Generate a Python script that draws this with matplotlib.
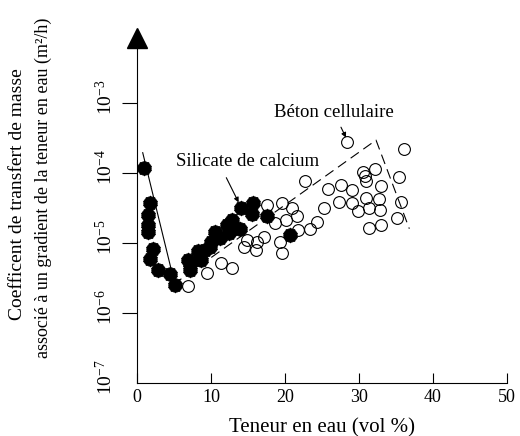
import numpy as np
import matplotlib
matplotlib.use('Agg')
import matplotlib.pyplot as plt
from matplotlib.transforms import offset_copy, ScaledTranslation

plt.rcParams['font.family'] = ['Liberation Serif', 'DejaVu Serif']
plt.rcParams['mathtext.fontset'] = 'stix'

# silicate de calcium (filled symbols)
sil_x = [1.0, 1.7, 1.5, 1.5, 1.5, 2.2, 1.8, 2.9, 4.5, 5.1, 6.9, 7.1, 7.2, 8.3, 8.7,
         9.2, 9.9, 10.0, 10.5, 11.2, 12.1, 12.4, 12.8, 13.9, 14.1, 15.5, 15.7, 17.5, 20.7]
sil_y = [1.17e-4, 3.7e-5, 2.5e-5, 1.8e-5, 1.45e-5, 8.3e-6, 5.9e-6, 4.1e-6, 3.6e-6, 2.5e-6,
         5.8e-6, 4.1e-6, 5.0e-6, 7.6e-6, 5.8e-6, 7.9e-6, 8.9e-6, 1.05e-5, 1.45e-5, 1.17e-5,
         1.8e-5, 1.4e-5, 2.1e-5, 1.6e-5, 3.2e-5, 2.6e-5, 3.7e-5, 2.4e-5, 1.3e-5]

# beton cellulaire (open symbols)
bet_x = [6.9, 9.4, 11.4, 12.8, 14.4, 14.8, 16.1, 16.2, 17.2, 17.5, 18.6, 19.3, 19.6, 19.6,
         20.2, 21.0, 21.6, 21.8, 23.4, 22.7, 24.3, 25.3, 25.8, 27.3, 27.6, 28.4, 29.0, 29.0,
         29.9, 30.5, 30.8, 31.0, 31.0, 31.4, 31.4, 32.2, 32.7, 32.8, 33.0, 33.0, 35.2, 35.4,
         35.7, 36.1]
bet_y = [2.4e-6, 3.7e-6, 5.2e-6, 4.4e-6, 8.9e-6, 1.1e-5, 7.9e-6, 1.05e-5, 1.23e-5, 3.5e-5,
         1.9e-5, 1.02e-5, 7.2e-6, 3.7e-5, 2.1e-5, 3.2e-5, 2.4e-5, 1.55e-5, 1.6e-5, 7.6e-5,
         2.0e-5, 3.2e-5, 6.0e-5, 3.8e-5, 6.8e-5, 2.75e-4, 5.8e-5, 3.7e-5, 2.9e-5, 1.02e-4,
         9.1e-5, 7.8e-5, 4.4e-5, 3.2e-5, 1.66e-5, 1.15e-4, 4.3e-5, 3.0e-5, 6.5e-5, 1.8e-5,
         2.3e-5, 8.9e-5, 3.8e-5, 2.2e-4]

# guide lines
sil_line_x = [0.77, 4.8]
sil_line_y = [1.95e-4, 3.5e-6]
bet_line_x = [4.9, 32.3, 36.8]
bet_line_y = [2.55e-6, 2.95e-4, 1.6e-5]

xticks = [0, 10, 20, 30, 40, 50]
yticks = [1e-7, 1e-6, 1e-5, 1e-4, 1e-3]
ytick_labels = [r'$\mathregular{10^{-7}}$', r'$\mathregular{10^{-6}}$', r'$\mathregular{10^{-5}}$',
                r'$\mathregular{10^{-4}}$', r'$\mathregular{10^{-3}}$']

fig = plt.figure(figsize=(5.2, 4.36), dpi=100)
ax = fig.add_axes([0.2635, 0.1216, 0.7115, 0.7706])

ax.plot(sil_line_x, sil_line_y, color='black', lw=0.8)
ax.plot(bet_line_x, bet_line_y, color='black', lw=0.8, dashes=(9, 5))
ax.plot(bet_x, bet_y, 'o', ms=8.5, mfc='none', mec='black', mew=0.8)
# filled symbols with a slightly ragged rim
ax.plot(sil_x, sil_y, marker=(10, 1, 0), ls='none', ms=11, mfc='black', mec='black', mew=0.5)
ax.plot(sil_x, sil_y, 'o', ms=9.5, mfc='black', mec='black', mew=0.8)

ax.set_yscale('log')
ax.set_xlim(0, 50)
ax.set_ylim(1e-7, 10 ** -2.2)
ax.set_xticks(xticks)
ax.set_yticks(yticks)
ax.set_yticklabels(ytick_labels, rotation=90, va='center')
ax.minorticks_off()
ax.tick_params(axis='y', which='major', direction='out', length=11, width=0.8, labelsize=14, pad=4)
ax.tick_params(axis='x', which='major', direction='in', length=7, width=0.8, labelsize=13, pad=4)
ax.yaxis.get_major_ticks()[0].tick1line.set_visible(False)
# keep the "10" centred on its tick, exponent sitting above it
shift = ScaledTranslation(0, 6 / 100, fig.dpi_scale_trans)
for lab in ax.get_yticklabels():
    lab.set_transform(lab.get_transform() + shift)
for s in ['top', 'right']:
    ax.spines[s].set_visible(False)
ax.spines['left'].set_linewidth(0.8)
ax.spines['bottom'].set_linewidth(0.8)

# arrow head on the y axis
tr = offset_copy(ax.transAxes, fig=fig, x=0, y=9.5, units='dots')
ax.plot([0], [1], marker='^', ms=13.7, color='black', transform=tr, clip_on=False)

ax.set_xlabel('Teneur en eau (vol %)', fontsize=15, labelpad=9)
fig.text(0.033, 0.555, 'Coefficent de transfert de masse', rotation=90,
         ha='center', va='center', fontsize=14)
fig.text(0.083, 0.570, 'associé à un gradient de la teneur en eau (m²/h)', rotation=90,
         ha='center', va='center', fontsize=13)

ax.annotate('', xy=(13.9, 3.5e-5), xytext=(11.9, 9.3e-5),
            arrowprops=dict(arrowstyle='-|>', color='black', lw=0.8, mutation_scale=7))
ax.text(15.0, 1.48e-4, 'Silicate de calcium', ha='center', va='center', fontsize=13.5)
ax.annotate('', xy=(28.4, 2.95e-4), xytext=(27.4, 4.9e-4),
            arrowprops=dict(arrowstyle='-|>', color='black', lw=0.8, mutation_scale=7))
ax.text(26.55, 7.4e-4, 'Béton cellulaire', ha='center', va='center', fontsize=13.5)

fig.savefig('out.png', dpi=100)
